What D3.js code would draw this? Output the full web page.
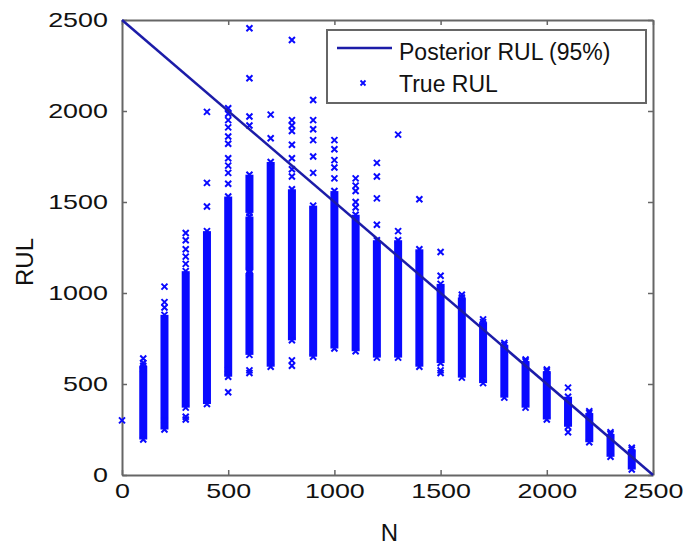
<!DOCTYPE html>
<html lang="en">
<head>
<meta charset="UTF-8">
<title>Posterior RUL vs True RUL</title>
<script src="https://cdn.jsdelivr.net/npm/d3@7"></script>
<style>body{margin:0;background:#fff;}</style>
</head>
<body>
<script>
    // axis ticks (both axes)
    const tickValues = [0, 500, 1000, 1500, 2000, 2500];

    // posterior RUL line (95%)
    const lineN = [0, 2500];
    const lineRUL = [2500, 0];

    // dense runs of True RUL crosses: one entry per run
    const bandN = [100, 200, 300, 400, 500, 600, 600, 600, 700, 800, 900, 1000, 1100, 1200,
        1300, 1400, 1500, 1600, 1700, 1800, 1900, 2000, 2100, 2200, 2300, 2400];
    const bandLow = [195, 250, 370, 390, 540, 660, 1125, 1440, 595, 740, 650, 695, 680, 645,
        645, 595, 615, 535, 505, 425, 370, 305, 265, 180, 100, 30];
    const bandHigh = [600, 880, 1120, 1340, 1530, 1110, 1420, 1650, 1720, 1570, 1480, 1560, 1430, 1290,
        1290, 1240, 1050, 975, 840, 715, 625, 570, 430, 340, 225, 140];

    // single True RUL crosses
    const pointN = [0,
        100, 100, 100,
        200, 200, 200, 200,
        300, 300, 300, 300, 300, 300, 300,
        400, 400, 400,
        500, 500, 500, 500, 500, 500, 500, 500, 500, 500, 500, 500,
        600, 600, 600, 600, 600, 600,
        700, 700,
        800, 800, 800, 800, 800, 800, 800, 800, 800, 800,
        900, 900, 900, 900, 900, 900,
        1000, 1000, 1000, 1000, 1000,
        1100, 1100, 1100, 1100, 1100,
        1200, 1200, 1200, 1200,
        1300, 1300,
        1400,
        1500, 1500, 1500, 1500,
        1600, 1700, 1800, 1900, 2000,
        2100, 2100,
        2200, 2300, 2400];
    const pointRUL = [300,
        640, 615, 580,
        1035, 950, 920, 300,
        1330, 1290, 1240, 1200, 1160, 320, 305,
        1995, 1605, 1475,
        2015, 1985, 1950, 1910, 1860, 1820, 1740, 1700, 1660, 1600, 580, 455,
        2455, 2180, 1970, 1920, 575, 560,
        1980, 1850,
        2390, 1950, 1920, 1890, 1815, 1740, 1680, 1640, 630, 600,
        2060, 1950, 1900, 1840, 1750, 1660,
        1840, 1790, 1730, 1690, 1630,
        1630, 1590, 1560, 1500, 1470,
        1715, 1640, 1520, 1375,
        1870, 1340,
        1515,
        1225, 1095, 575, 560,
        990, 855, 725, 635, 580,
        480, 235,
        350, 235, 150];

    const width = 686, height = 546;
    const blue = "#0a0aff", lineBlue = "#1c1ca8", axisGrey = "#666";

    const x = d3.scaleLinear().domain([0, 2500]).range([122, 653]);
    const y = d3.scaleLinear().domain([0, 2500]).range([475, 20]);

    const svg = d3.select("body").append("svg")
        .attr("width", width)
        .attr("height", height)
        .style("font-family", "'Liberation Sans', Arial, sans-serif");

    const styleAxis = (g) => {
        g.select(".domain").attr("stroke", axisGrey).attr("stroke-width", 2);
        g.selectAll(".tick line").attr("stroke", axisGrey).attr("stroke-width", 1.5);
        g.selectAll("text").attr("fill", "#111").style("font-size", "21px")
            .attr("transform", "scale(1.28,1)");
    };

    const fmt = d3.format("d");
    svg.append("g").attr("transform", "translate(0,475)")
        .call(d3.axisBottom(x).tickValues(tickValues).tickFormat(fmt).tickSizeInner(-5).tickSizeOuter(0).tickPadding(8))
        .call(styleAxis);
    svg.append("g").attr("transform", "translate(122,0)")
        .call(d3.axisLeft(y).tickValues(tickValues).tickFormat(fmt).tickSizeInner(-5).tickSizeOuter(0).tickPadding(11))
        .call(styleAxis);
    svg.append("g").attr("transform", "translate(0,20)")
        .call(d3.axisTop(x).tickValues(tickValues).tickFormat("").tickSizeInner(-5).tickSizeOuter(0))
        .call(styleAxis);
    svg.append("g").attr("transform", "translate(653,0)")
        .call(d3.axisRight(y).tickValues(tickValues).tickFormat("").tickSizeInner(-5).tickSizeOuter(0))
        .call(styleAxis);

    // axis titles
    svg.append("text")
        .attr("x", (x(0) + x(2500)) / 2 + 2)
        .attr("y", 541)
        .attr("text-anchor", "middle")
        .style("font-size", "24px")
        .attr("fill", "#111")
        .text("N");
    svg.append("text")
        .attr("transform", "translate(33,262) rotate(-90)")
        .attr("text-anchor", "middle")
        .style("font-size", "24px")
        .attr("fill", "#111")
        .text("RUL");

    // cross marker
    const cross = (s) => `M${-s},${-s}L${s},${s}M${-s},${s}L${s},${-s}`;

    // dense runs
    const bands = bandN.map((n, i) => ({n, lo: bandLow[i], hi: bandHigh[i]}));
    svg.append("g").selectAll("rect")
        .data(bands)
        .join("rect")
        .attr("x", d => x(d.n) - 4)
        .attr("width", 8)
        .attr("y", d => y(d.hi))
        .attr("height", d => y(d.lo) - y(d.hi))
        .attr("fill", blue);

    const ends = bands.flatMap(d => [[d.n, d.lo], [d.n, d.hi]]);
    const singles = pointN.map((n, i) => [n, pointRUL[i]]);
    svg.append("g").selectAll("path")
        .data(ends.concat(singles))
        .join("path")
        .attr("transform", d => `translate(${x(d[0])},${y(d[1])})`)
        .attr("d", cross(3))
        .attr("stroke", blue)
        .attr("stroke-width", 2)
        .attr("fill", "none");

    // posterior line
    svg.append("path")
        .datum(lineN.map((n, i) => [n, lineRUL[i]]))
        .attr("d", d3.line().x(d => x(d[0])).y(d => y(d[1])))
        .attr("stroke", lineBlue)
        .attr("stroke-width", 2.5)
        .attr("fill", "none");

    // legend
    const legend = svg.append("g");
    legend.append("rect")
        .attr("x", 327).attr("y", 30)
        .attr("width", 319).attr("height", 73)
        .attr("fill", "white")
        .attr("stroke", axisGrey)
        .attr("stroke-width", 2);
    legend.append("line")
        .attr("x1", 337).attr("x2", 392)
        .attr("y1", 48).attr("y2", 48)
        .attr("stroke", lineBlue)
        .attr("stroke-width", 2.5);
    legend.append("path")
        .attr("transform", "translate(363,83)")
        .attr("d", cross(2.5))
        .attr("stroke", blue)
        .attr("stroke-width", 1.8);
    legend.selectAll("text.lab")
        .data(["Posterior RUL (95%)", "True RUL"])
        .join("text")
        .attr("x", 399)
        .attr("y", (d, i) => 60 + i * 32)
        .style("font-size", "23px")
        .attr("fill", "#111")
        .text(d => d);
</script>
</body>
</html>
